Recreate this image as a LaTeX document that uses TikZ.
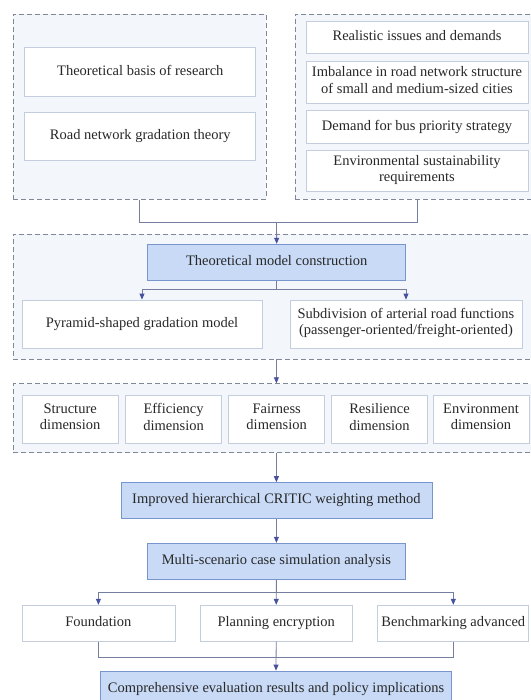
\documentclass[tikz,border=0pt]{standalone}
\usepackage{fontspec}
\setmainfont{Liberation Serif}
\definecolor{framefill}{RGB}{243,246,251}
\definecolor{framedraw}{RGB}{128,136,152}
\definecolor{itemdraw}{RGB}{196,205,222}
\definecolor{keyfill}{RGB}{200,218,246}
\definecolor{keydraw}{RGB}{120,150,205}
\definecolor{linegray}{RGB}{118,126,160}
\definecolor{tipblue}{RGB}{70,82,160}
\definecolor{textgray}{RGB}{40,40,40}
\usetikzlibrary{arrows.meta}

\begin{document}
\begin{tikzpicture}[x=1pt, y=-1pt,
  frame/.style={draw=framedraw, fill=framefill, dash pattern=on 5pt off 3pt,
    line width=0.8pt, inner sep=0pt},
  item/.style={draw=itemdraw, fill=white, line width=0.8pt, align=center,
    inner sep=2pt, text=textgray, font=\fontsize{14.5}{16.5}\selectfont,
    execute at begin node=\strut, execute at end node=\strut},
  keyb/.style={item, draw=keydraw, fill=keyfill},
  lin/.style={draw=linegray, line width=0.8pt},
  arw/.style={lin, -{Triangle[length=6pt, width=5pt, color=tipblue]}},
]
\useasboundingbox (0,0) rectangle (530,700);

% dashed groups
\node[frame, minimum width=253pt, minimum height=185pt] (basisfr) at (139.4,106.9) {};
\node[frame, minimum width=245pt, minimum height=185pt] (issuesfr) at (417.5,106.9) {};
\node[frame, minimum width=527pt, minimum height=125pt] (modelfr) at (276.4,296.5) {};
\node[frame, minimum width=527pt, minimum height=69pt] (dimfr) at (276.4,418.2) {};

% theory
\node[item, minimum width=231pt, minimum height=49pt] (basis) at (140.3,71.8)
  {Theoretical basis of research};
\node[item, minimum width=231pt, minimum height=48pt] (grad) at (140.3,136.6)
  {Road network gradation theory};

% issues
\node[item, minimum width=222pt, minimum height=32pt] (issues) at (417,37.2)
  {Realistic issues and demands};
\node[item, minimum width=222pt, minimum height=42pt] (imbal) at (417,82.2)
  {Imbalance in road network structure\\of small and medium-sized cities};
\node[item, minimum width=222pt, minimum height=33pt] (bus) at (417,127.3)
  {Demand for bus priority strategy};
\node[item, minimum width=222pt, minimum height=41pt] (env) at (417,170.7)
  {Environmental sustainability\\requirements};

% model
\node[keyb, minimum width=258pt, minimum height=36pt] (model) at (276.7,262.2)
  {Theoretical model construction};
\node[item, minimum width=240pt, minimum height=48pt] (pyramid) at (142,324)
  {Pyramid-shaped gradation model};
\node[item, minimum width=232pt, minimum height=48pt] (subdiv) at (406,324)
  {Subdivision of arterial road functions\\(passenger-oriented/freight-oriented)};

% dimensions
\node[item, minimum width=96pt, minimum height=48pt] (struct) at (70.2,419.4)
  {Structure\\dimension};
\node[item, minimum width=96pt, minimum height=48pt] (effic) at (173.6,419.4)
  {Efficiency\\dimension};
\node[item, minimum width=96pt, minimum height=48pt] (fair) at (276.7,419.4)
  {Fairness\\dimension};
\node[item, minimum width=96pt, minimum height=48pt] (resil) at (379.5,419.4)
  {Resilience\\dimension};
\node[item, minimum width=96pt, minimum height=48pt] (envdim) at (481,419.4)
  {Environment\\dimension};

% evaluation
\node[keyb, minimum width=311pt, minimum height=36pt] (critic) at (276.4,500.6)
  {Improved hierarchical CRITIC weighting method};
\node[keyb, minimum width=258pt, minimum height=36pt] (multi) at (276.4,561.2)
  {Multi-scenario case simulation analysis};
\node[item, minimum width=153pt, minimum height=36pt] (found) at (98.4,623.2)
  {Foundation};
\node[item, minimum width=152pt, minimum height=36pt] (plan) at (276.2,623.2)
  {Planning encryption};
\node[item, minimum width=151pt, minimum height=36pt] (bench) at (453.3,623.2)
  {Benchmarking advanced};
\node[keyb, minimum width=351pt, minimum height=36pt] (final) at (276,689)
  {Comprehensive evaluation results and policy implications};

% connectors
\coordinate (merge) at (276.5,222.3);
\draw[lin] (basisfr.south) -- ++(0,22.8) -| (issuesfr.south);
\draw[arw] (merge) -- (model.north);
\draw[arw] (model.south) -- ++(0,8.8) -| (pyramid.north);
\draw[arw] (model.south) -- ++(0,8.8) -| (subdiv.north);
\draw[arw] (modelfr.south) -- (dimfr.north);
\draw[arw] (dimfr.south) -- (critic.north);
\draw[arw] (critic) -- (multi);
\draw[arw] (multi.south) -- ++(0,13) -| (found.north);
\draw[arw] (multi.south) -- (plan.north);
\draw[arw] (multi.south) -- ++(0,13) -| (bench.north);
\draw[lin] (found.south) -- ++(0,16) -| (bench.south);
\draw[arw] (plan.south) -- (final.north);
\end{tikzpicture}
\end{document}
